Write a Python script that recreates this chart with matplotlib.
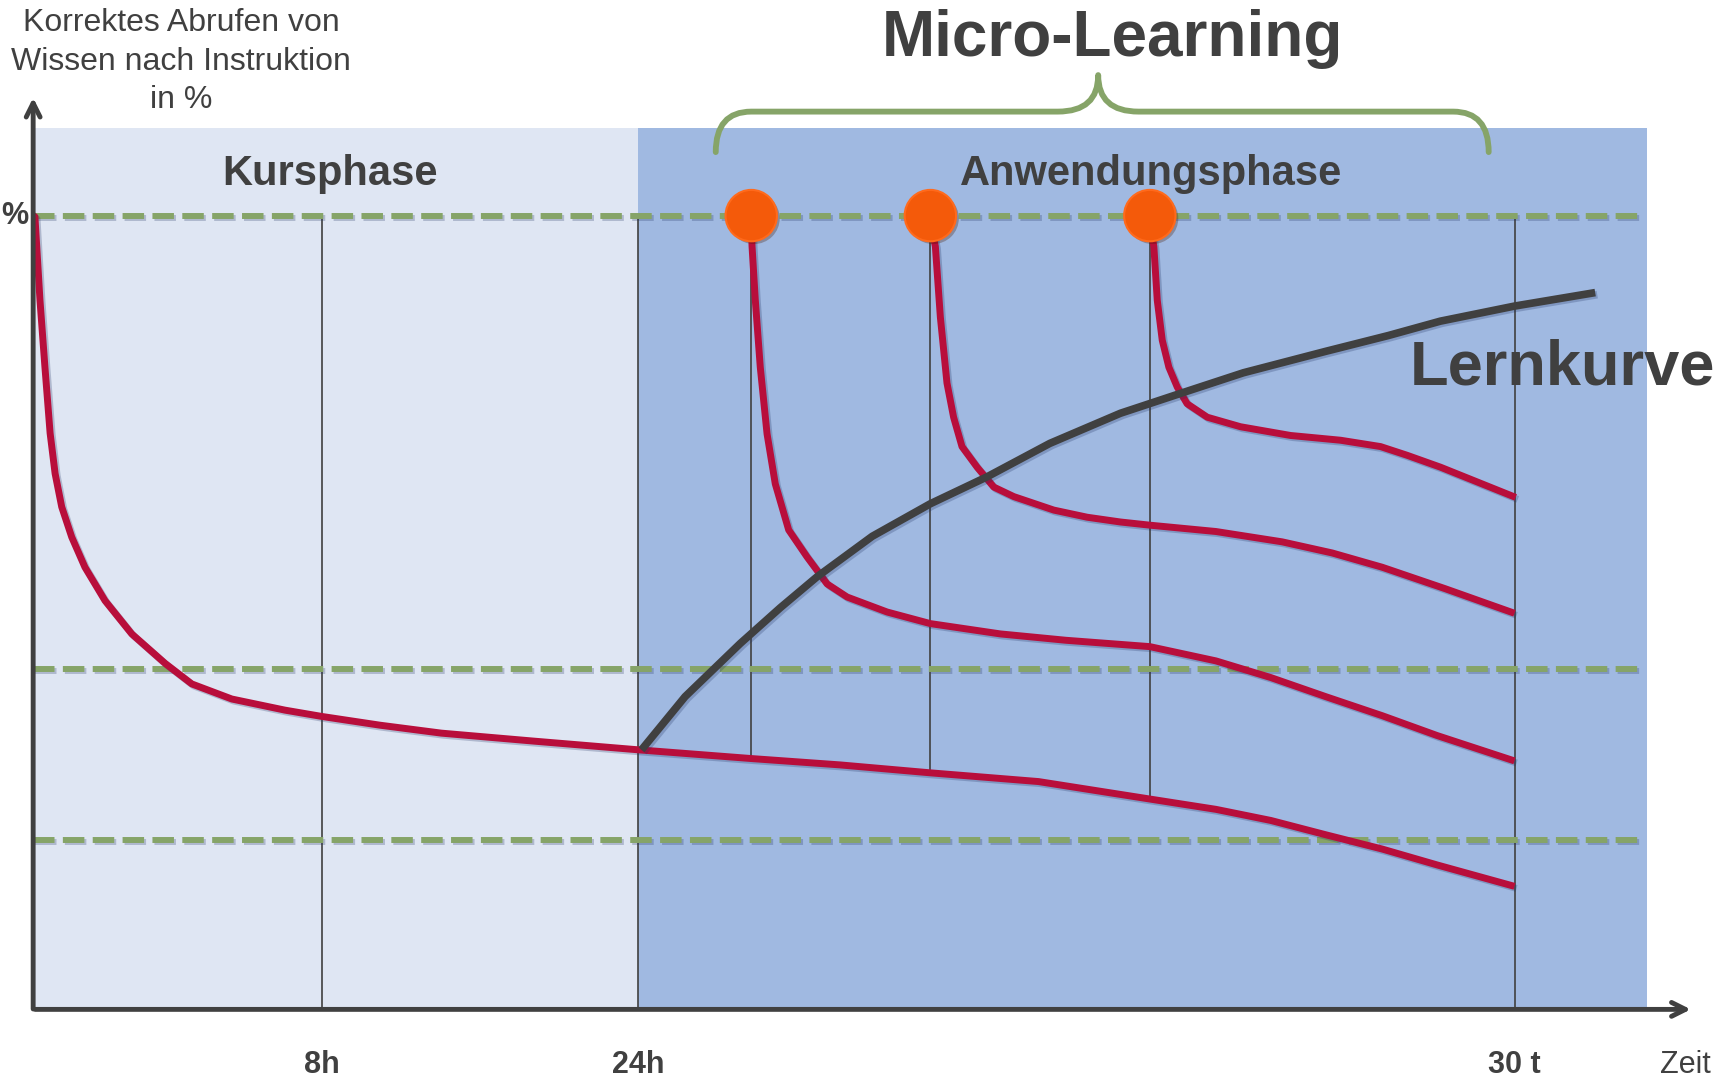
import numpy as np
import matplotlib
matplotlib.use('Agg')
import matplotlib.pyplot as plt
import matplotlib.patheffects as pe
from matplotlib.path import Path
from matplotlib.patches import PathPatch, Rectangle

plt.rcParams['font.family'] = ['Liberation Sans', 'DejaVu Sans']

# x: position along the time axis (0 = origin, 100 = end of shaded area)
# y: correct recall in % (100 = upper dashed line)
phase_edges = [0, 37.5, 100]          # Kursphase | Anwendungsphase
ref_levels = [100, 42.9, 21.3]        # dashed guide lines
tick_pos = [17.9, 37.5, 91.8]
tick_labels = ['8h', '24h', '30 t']
micro_x = [44.5, 55.6, 69.2]          # micro-learning refreshers

base_x = [0, 0.11, 0.42, 0.73, 1.05, 1.36, 1.77, 2.39, 3.21, 4.45, 6.11, 8.17, 9.83,
          12.31, 15.6, 17.9, 21.5, 25.3, 31.0, 37.5, 44.5, 50.0, 55.6, 62.3, 69.2,
          73.3, 76.7, 80.1, 83.6, 87.0, 91.8]
base_y = [100, 99.85, 89.4, 80.9, 72.6, 67.5, 63.3, 59.5, 55.7, 51.5, 47.3, 43.6, 41.0,
          39.1, 37.7, 36.9, 35.8, 34.8, 33.8, 32.7, 31.6, 30.8, 29.8, 28.7, 26.5,
          25.2, 23.8, 22.0, 20.2, 18.2, 15.5]

c1_x = [44.5, 44.55, 44.75, 45.06, 45.48, 45.99, 46.82, 47.96, 49.2, 50.44, 52.92,
        55.6, 59.94, 64.0, 69.2, 73.3, 76.7, 80.1, 83.6, 87.0, 91.8]
c1_y = [99.3, 96.1, 89.4, 80.9, 72.5, 66.2, 60.4, 57.0, 53.6, 51.95, 50.06,
        48.6, 47.3, 46.5, 45.7, 43.9, 41.8, 39.4, 37.0, 34.5, 31.3]

c2_x = [55.6, 55.91, 56.22, 56.63, 57.04, 57.56, 58.5, 59.53, 60.77, 63.25, 65.32,
        67.38, 69.2, 73.3, 77.4, 80.5, 83.6, 87.5, 91.8]
c2_y = [99.3, 96.1, 87.2, 78.9, 74.6, 70.9, 68.3, 65.8, 64.6, 62.9, 62.0,
        61.4, 61.0, 60.2, 58.9, 57.5, 55.7, 53.0, 49.9]

c3_x = [69.2, 69.45, 69.66, 69.97, 70.38, 70.9, 71.51, 72.76, 74.82, 77.92, 81.02,
        83.5, 85.15, 87.22, 91.87]
c3_y = [99.3, 96.1, 89.35, 84.3, 80.9, 78.4, 76.3, 74.6, 73.4, 72.3, 71.7,
        70.9, 69.8, 68.3, 64.5]

learn_x = [37.7, 40.4, 43.82, 46.3, 48.58, 52.0, 55.6, 59.12, 63.0, 67.38, 71.1,
           75.0, 80.1, 84.0, 87.2, 91.8, 96.8]
learn_y = [32.7, 39.4, 46.1, 50.6, 54.5, 59.6, 63.7, 67.1, 71.3, 75.1, 77.6,
           80.2, 82.9, 84.9, 86.7, 88.6, 90.3]

top_shade = 111.0
brace_span = [42.3, 90.2]
brace_tip = 66.0

dark = '#404040'
red = '#B80E3B'
green = '#86A468'
light_bg = '#DFE6F3'
dark_bg = '#A0B9E1'
orange = '#F45A0A'

shadow = [pe.SimpleLineShadow(offset=(1.5, -1.5), alpha=0.25, shadow_color='#203060'), pe.Normal()]

fig = plt.figure(figsize=(17.33, 10.79), dpi=100)
ax = fig.add_axes([0, 0, 1, 1])
ax.set_xlim(-2.055, 105.34)
ax.set_ylim(-8.77, 127.16)
ax.axis('off')

# phase backgrounds
ax.add_patch(Rectangle((phase_edges[0], 0), phase_edges[1] - phase_edges[0], top_shade,
                       color=light_bg, lw=0, zorder=0))
ax.add_patch(Rectangle((phase_edges[1], 0), phase_edges[2] - phase_edges[1], top_shade,
                       color=dark_bg, lw=0, zorder=0))

# dashed levels
for lv in ref_levels:
    ax.plot([0, 99.6], [lv, lv], color=green, lw=4.3, dashes=(3.6, 1.4),
            zorder=2, path_effects=shadow)

# vertical guide lines
for xp in tick_pos:
    ax.plot([xp, xp], [0, 100], color=dark, lw=1.2, zorder=1)
for xp in micro_x:
    yb = np.interp(xp, base_x, base_y)
    ax.plot([xp, xp], [yb, 99], color=dark, lw=1.2, zorder=1)

# forgetting curves
for xs, ys in [(base_x, base_y), (c1_x, c1_y), (c2_x, c2_y), (c3_x, c3_y)]:
    ax.plot(xs, ys, color=red, lw=5, solid_capstyle='butt', solid_joinstyle='round',
            zorder=4, path_effects=shadow)

# learning curve
ax.plot(learn_x, learn_y, color=dark, lw=5.5, solid_capstyle='butt',
        solid_joinstyle='round', zorder=5, path_effects=shadow)

# refresher dots
ax.plot(micro_x, [ref_levels[0]] * len(micro_x), 'o', ms=37, color=orange,
        mec='#FF6A1C', mew=1.5, zorder=6,
        path_effects=[pe.SimplePatchShadow(offset=(2, -2), alpha=0.3), pe.Normal()])

# axes arrows
ax.annotate('', xy=(102.9, 0), xytext=(-0.05, 0),
            arrowprops=dict(arrowstyle='->,head_length=1.0,head_width=0.5', color=dark, lw=3.5),
            zorder=7)
ax.annotate('', xy=(0, 115.2), xytext=(0, -0.3),
            arrowprops=dict(arrowstyle='->,head_length=1.0,head_width=0.5', color=dark, lw=3.5),
            zorder=7)

# brace over micro-learning
b0, b1 = brace_span
yb0, yb1, ytip = 108.0, 113.1, 117.7
verts = [(b0, yb0), (b0, yb1), (b0 + 2.2, yb1),
         (brace_tip - 2.5, yb1), (brace_tip, yb1), (brace_tip, ytip),
         (brace_tip, yb1), (brace_tip + 2.5, yb1),
         (b1 - 2.2, yb1), (b1, yb1), (b1, yb0)]
codes = [Path.MOVETO, Path.CURVE3, Path.CURVE3,
         Path.LINETO, Path.CURVE3, Path.CURVE3,
         Path.CURVE3, Path.CURVE3,
         Path.LINETO, Path.CURVE3, Path.CURVE3]
ax.add_patch(PathPatch(Path(verts, codes), fill=False, ec=green, lw=4.2, zorder=3,
                       capstyle='round', joinstyle='round'))

# texts
ax.text(brace_tip + 0.9, 122.3, 'Micro-Learning', ha='center', va='center',
        fontsize=46, fontweight='bold', color=dark)
ax.text(18.4, 105.3, 'Kursphase', ha='center', va='center', fontsize=30,
        fontweight='bold', color=dark)
ax.text(69.3, 105.3, 'Anwendungsphase', ha='center', va='center', fontsize=30,
        fontweight='bold', color=dark)
ax.text(85.3, 80.8, 'Lernkurve', ha='left', va='center', fontsize=45.5,
        fontweight='bold', color=dark, zorder=8)
ax.text(9.18, 119.4, 'Korrektes Abrufen von\nWissen nach Instruktion\nin %',
        ha='center', va='center', fontsize=23, color=dark, linespacing=1.36)
ax.text(-2.0, 100, '%', ha='left', va='center', fontsize=22,
        fontweight='bold', color=dark)
for xp, lb in zip(tick_pos, tick_labels):
    ax.text(xp, -6.96, lb, ha='center', va='center', fontsize=22,
            fontweight='bold', color=dark)
ax.text(102.4, -6.96, 'Zeit', ha='center', va='center', fontsize=22, color=dark)

fig.savefig('out.png', dpi=100)
